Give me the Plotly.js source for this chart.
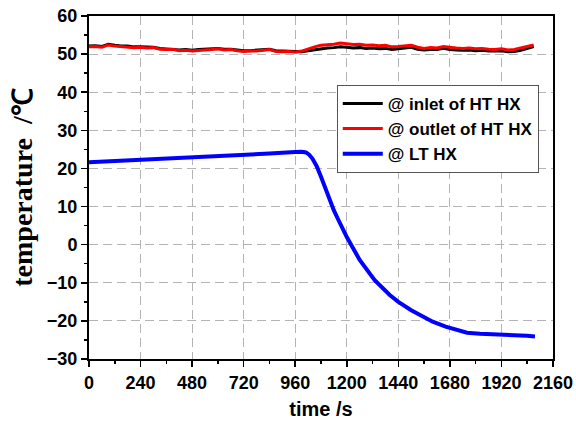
<!DOCTYPE html>
<html>
<head>
<meta charset="utf-8">
<script src="https://cdn.plot.ly/plotly-3.0.1.min.js"></script>
<style>html,body{margin:0;padding:0;background:#fff;}#chart{width:576px;height:425px;}</style>
</head>
<body>
<div id="chart"></div>
<script>
// HT HX readings (s, °C)
const htTime = [0,30,60,90,120,150,180,210,240,270,300,330,360,390,420,450,480,510,540,570,600,630,660,690,720,750,780,810,840,870,900,930,960,990,1020,1050,1080,1110,1140,1170,1200,1230,1260,1290,1320,1350,1380,1410,1440,1470,1500,1530,1560,1590,1620,1650,1680,1710,1740,1770,1800,1830,1860,1890,1920,1950,1980,2010,2040,2070];
const inletHT = [52.1,52.2,52.0,52.6,52.3,52.1,52.1,51.9,51.9,51.8,51.8,51.5,51.4,51.4,51.1,51.2,51.0,51.2,51.3,51.4,51.5,51.3,51.3,51.1,50.9,50.9,51.0,51.2,51.3,50.9,50.8,50.8,50.6,50.6,50.9,51.2,51.4,51.6,51.7,51.9,51.8,51.6,51.7,51.5,51.6,51.4,51.5,51.2,51.4,51.6,51.8,51.3,51.1,51.2,51.2,51.5,51.2,51.1,51.0,51.1,50.9,51.0,50.8,50.8,50.9,50.6,50.7,51.0,51.5,52.0];
const outletHT = [51.9,52.0,51.8,52.4,52.1,52.0,51.9,51.7,51.8,51.6,51.7,51.3,51.2,51.3,50.9,51.0,50.8,51.0,51.1,51.2,51.4,51.1,51.2,50.9,50.7,50.8,50.8,51.0,51.2,50.7,50.6,50.7,50.5,50.8,51.4,51.9,52.3,52.4,52.6,52.9,52.7,52.5,52.6,52.3,52.4,52.2,52.3,51.9,52.0,52.1,52.3,51.8,51.5,51.7,51.6,52.0,51.7,51.6,51.5,51.6,51.4,51.5,51.3,51.2,51.4,51.1,51.2,51.5,52.0,52.4];
// LT HX readings
const ltTime = [0,120,240,360,480,600,720,840,960,990,1010,1025,1040,1060,1080,1100,1120,1140,1160,1200,1260,1330,1400,1440,1500,1540,1600,1660,1720,1760,1820,1900,1990,2040,2076];
const ltHX = [21.6,21.9,22.3,22.6,22.9,23.2,23.5,23.9,24.3,24.4,24.2,23.6,22.6,20.6,17.8,14.8,11.8,9.0,6.6,2.0,-4.0,-9.3,-13.2,-15.0,-17.2,-18.5,-20.2,-21.5,-22.6,-23.1,-23.4,-23.5,-23.7,-23.9,-24.1];
const seriesNames = ['@ inlet of HT HX','@ outlet of HT HX','@ LT HX'];

const tickFont = {family:'Arial, "Liberation Sans", sans-serif', size:18, color:'#000', weight:'bold'};
const traces = [
  {x:htTime, y:inletHT, name:seriesNames[0], mode:'lines', line:{color:'#000000', width:3}},
  {x:htTime, y:outletHT, name:seriesNames[1], mode:'lines', line:{color:'#ff0000', width:3}},
  {x:ltTime, y:ltHX, name:seriesNames[2], mode:'lines', line:{color:'#0000ff', width:4}}
];
const layout = {
  width:576, height:425,
  margin:{l:89, r:23, t:16, b:66},
  paper_bgcolor:'#fff', plot_bgcolor:'#fff',
  showlegend:true,
  legend:{x:0.534, y:0.799, xanchor:'left', yanchor:'top', bgcolor:'#fff', bordercolor:'#555', borderwidth:1,
    itemwidth:40,
    font:{family:'Arial, "Liberation Sans", sans-serif', size:17, color:'#000', weight:'bold'}, tracegroupgap:0},
  xaxis:{range:[0,2160], tick0:0, dtick:240, showline:true, linecolor:'#000', linewidth:2, mirror:true,
    ticks:'outside', ticklen:6, tickwidth:1.5, tickcolor:'#000', tickfont:tickFont,
    showgrid:true, gridcolor:'#b4b4b4', gridwidth:1, griddash:'9px,5px', zeroline:false,
    minor:{dtick:120, ticks:'outside', ticklen:3, tickwidth:1.5, tickcolor:'#000', showgrid:false},
    title:{text:'time /s', font:{family:'Arial, "Liberation Sans", sans-serif', size:20, color:'#000', weight:'bold'}, standoff:10}},
  yaxis:{range:[-30,60], tick0:0, dtick:10, showline:true, linecolor:'#000', linewidth:2, mirror:true,
    ticks:'outside', ticklen:6, tickwidth:1.5, tickcolor:'#000', tickfont:tickFont,
    showgrid:true, gridcolor:'#b4b4b4', gridwidth:1, griddash:'9px,5px', zeroline:false,
    minor:{dtick:5, ticks:'outside', ticklen:3, tickwidth:1.5, tickcolor:'#000', showgrid:false},
    title:{text:'temperature  /℃', font:{family:'"Times New Roman", "Liberation Serif", serif', size:28, color:'#000', weight:'bold'}, standoff:6}}
};
Plotly.newPlot('chart', traces, layout, {staticPlot:true, displayModeBar:false});
</script>
</body>
</html>
